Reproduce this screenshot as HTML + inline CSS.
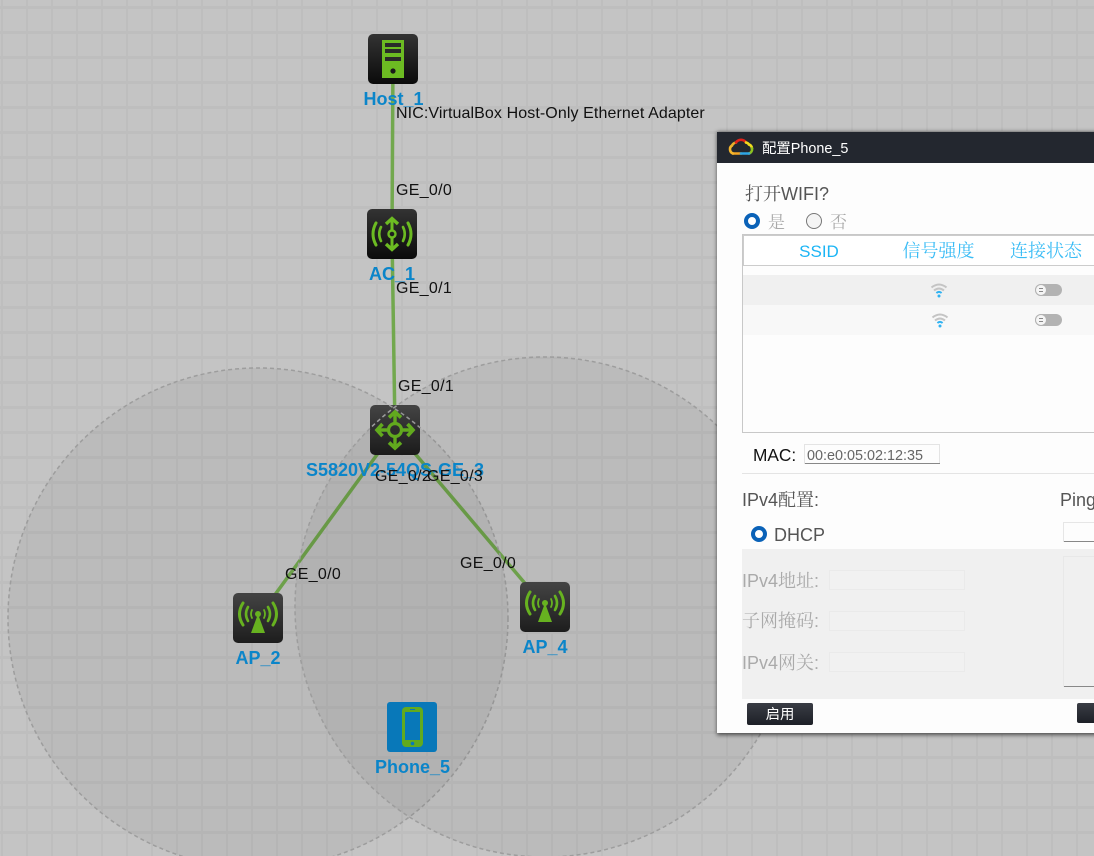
<!DOCTYPE html>
<html><head><meta charset="utf-8">
<style>
html,body{margin:0;padding:0;width:1094px;height:856px;overflow:hidden}
body{background-color:#c4c4c4;background-image:linear-gradient(90deg,transparent 1px,#bebebe 1px,#bebebe 3px,transparent 3px),linear-gradient(180deg,transparent 6px,#bebebe 6px,#bebebe 9px,transparent 9px);background-size:25px 25px}
svg{display:block}
text{font-family:"Liberation Sans","Noto Sans CJK SC",sans-serif;white-space:pre}
.n{font-weight:bold;font-size:18px;fill:#0b85c9;text-anchor:middle}
.p{font-size:16px;fill:#111;letter-spacing:.3px}
.cj{font-family:"Liberation Sans","Noto Serif CJK SC",serif}
</style></head>
<body>
<svg width="1094" height="856" viewBox="0 0 1094 856" xmlns="http://www.w3.org/2000/svg">
<defs>
<linearGradient id="d1" x1="0" y1="0" x2="0" y2="1"><stop offset="0" stop-color="#333"/><stop offset="1" stop-color="#0b0b0b"/></linearGradient>
<linearGradient id="d2" x1="0" y1="0" x2="0" y2="1"><stop offset="0" stop-color="#474747"/><stop offset="1" stop-color="#1f1f1f"/></linearGradient>
<linearGradient id="b" x1="0" y1="0" x2="0" y2="1"><stop offset="0" stop-color="#3a3d45"/><stop offset="1" stop-color="#1d2027"/></linearGradient>
<filter id="sh" x="-5%" y="-5%" width="110%" height="110%"><feGaussianBlur stdDeviation="2"/></filter>
<g id="ap">
<rect width="50" height="50" rx="5" fill="url(#d2)"/>
<g fill="none" stroke="#6cbb22" stroke-linecap="round">
<path d="M10 10q-7 11 0 22M40 10q7 11 0 22" stroke-width="3"/>
<path d="M15 14q-4 7 0 14M35 14q4 7 0 14" stroke-width="2.600"/>
<path d="M19 17q-2 4 0 8M31 17q2 4 0 8" stroke-width="1.800"/>
</g>
<circle cx="25" cy="21" r="3" fill="#6cbb22"/>
<path d="M25 21L32 40H18Z" fill="#6cbb22"/>
</g>
<g id="wifi">
<path d="M-7.500 -2.500q7.500-6 15 0M-5 0.500q5-4 10 0" fill="none" stroke="#c4c4c4" stroke-width="2"/>
<path d="M-2.600 3q2.600-2.200 5.200 0" fill="none" stroke="#2fb2f2" stroke-width="2"/>
<circle cx="0" cy="6" r="1.500" fill="#2fb2f2"/>
</g>
<g id="sw">
<rect x="0" y="-6" width="27" height="12" rx="6" fill="#b3b3b3"/>
<circle cx="6" cy="0" r="5.500" fill="#f5f5f5" stroke="#b3b3b3"/>
<path d="M4 -1.500h4M4 1.500h4" stroke="#888" stroke-width="1"/>
</g>
</defs>

<g stroke="#72a84e" stroke-width="3.500" fill="none">
<path d="M393 59L392 234"/>
<path d="M392 234L395 430"/>
<path d="M395 430L258 618"/>
<path d="M395 430L545 607"/>
</g>

<!-- Host -->
<g transform="translate(368,34)">
<rect width="50" height="50" rx="5" fill="url(#d1)"/>
<rect x="14" y="6" width="22" height="38" fill="#6cbb22"/>
<rect x="17" y="9" width="16" height="4" fill="#2a2a2a"/>
<rect x="17" y="15" width="16" height="4" fill="#2a2a2a"/>
<rect x="17" y="23" width="16" height="4" fill="#2a2a2a"/>
<circle cx="25" cy="37" r="2.600" fill="#1a1a1a"/>
</g>
<!-- AC -->
<g transform="translate(367,209)">
<rect width="50" height="50" rx="5" fill="url(#d1)"/>
<g fill="none" stroke="#6cbb22" stroke-linecap="round">
<path d="M9 14q-6 11 0 22M41 14q6 11 0 22" stroke-width="3"/>
<path d="M14 18q-3.500 7 0 14M36 18q3.500 7 0 14" stroke-width="2.600"/>
<circle cx="25" cy="25" r="3.500" stroke-width="2.400"/>
<path d="M25 11V21M25 29V39" stroke-width="3"/>
<path d="M19 15L25 9.500L31 15M19 35L25 40.500L31 35" stroke-width="3.400" stroke-linecap="butt"/>
</g>
</g>
<!-- Switch -->
<g transform="translate(370,405)">
<rect width="50" height="50" rx="5" fill="url(#d2)"/>
<g fill="none" stroke="#6cbb22">
<circle cx="25" cy="25" r="6.500" stroke-width="3.200"/>
<path d="M25 8V17M25 33V42M8 25H17M33 25H42" stroke-width="3.400"/>
<path d="M19 12.500L25 7L31 12.500M19 37.500L25 43L31 37.500M12.500 19L7 25L12.500 31M37.500 19L43 25L37.500 31" stroke-width="3.600"/>
</g>
</g>
<use href="#ap" x="233" y="593"/>
<use href="#ap" x="520" y="582"/>
<!-- Phone -->
<g transform="translate(387,702)">
<rect width="50" height="50" rx="3" fill="#0a84cb"/>
<rect x="15" y="5" width="21" height="40" rx="4" fill="#6cbb22"/>
<rect x="18" y="10" width="15" height="28" fill="#0a84cb"/>
<rect x="23" y="7" width="5" height="1" fill="#0a84cb"/>
<circle cx="25.500" cy="41.500" r="1.800" fill="#0a84cb"/>
</g>

<circle cx="258" cy="618" r="250" fill="#000" fill-opacity="0.045" stroke="#9d9d9d" stroke-width="1.500" stroke-dasharray="4 3"/>
<circle cx="545" cy="607" r="250" fill="#000" fill-opacity="0.045" stroke="#9d9d9d" stroke-width="1.500" stroke-dasharray="4 3"/>

<text class="n" x="393.500" y="105">Host_1</text>
<text class="n" x="392" y="280">AC_1</text>
<text class="n" x="395" y="476">S5820V2-54QS-GE_3</text>
<text class="n" x="258" y="664">AP_2</text>
<text class="n" x="545" y="653">AP_4</text>
<text class="n" x="412.500" y="773">Phone_5</text>

<text class="p" style="letter-spacing:.1px" x="396" y="118">NIC:VirtualBox Host-Only Ethernet Adapter</text>
<text class="p" x="396" y="195">GE_0/0</text>
<text class="p" x="396" y="293">GE_0/1</text>
<text class="p" x="398" y="391">GE_0/1</text>
<text class="p" x="375" y="481">GE_0/2</text>
<text class="p" x="427" y="481">GE_0/3</text>
<text class="p" x="285" y="579">GE_0/0</text>
<text class="p" x="460" y="568">GE_0/0</text>

<!-- Dialog -->
<rect x="717" y="132" width="400" height="603" fill="#000" fill-opacity="0.6" filter="url(#sh)"/>
<rect x="717" y="132" width="380" height="601" fill="#fdfdfd"/>
<rect x="717" y="132" width="380" height="31" fill="#23272f"/>
<g fill="none" stroke-width="2.600" stroke-linecap="round">
<path d="M733 153.500h8" stroke="#f5a623"/>
<path d="M733 153.500a4.500 4.500 0 0 1 -1-8" stroke="#f5b52b"/>
<path d="M732 145.500a5.500 5.500 0 0 1 4-3" stroke="#e8b02a"/>
<path d="M736 142.500a6 6 0 0 1 10 0" stroke="#e2231a"/>
<path d="M746 142.500a5 5 0 0 1 3 2" stroke="#f3d81c"/>
<path d="M749 144.500a4.500 4.500 0 0 1 3 4" stroke="#eedb1e"/>
<path d="M752 148.500a4.500 4.500 0 0 1 -3 5" stroke="#8dc21f"/>
<path d="M741 153.500h8" stroke="#2ea6e6"/>
</g>
<text x="762" y="153" font-size="14.400" fill="#fff">配置Phone_5</text>

<text class="cj" x="745" y="200" font-size="18" fill="#555">打开WIFI?</text>
<circle cx="752" cy="221" r="6" fill="#fff" stroke="#0a62b8" stroke-width="4"/>
<text class="cj" x="768" y="228" font-size="17" fill="#aaa">是</text>
<circle cx="814" cy="221" r="7.500" fill="#f4f4f4" stroke="#777" stroke-width="1"/>
<text class="cj" x="830" y="228" font-size="17" fill="#aaa">否</text>

<rect x="742.500" y="234.500" width="370" height="198" fill="#fdfdfd" stroke="#c8c8c8"/>
<rect x="743" y="234" width="370" height="1.500" fill="#c8c8c8"/>
<rect x="743.500" y="235.500" width="370" height="30" fill="#fff" stroke="#ccc"/>
<rect x="743" y="275" width="351" height="30" fill="#f0f0f0"/>
<rect x="743" y="305" width="351" height="30" fill="#f8f8f8"/>
<text x="819" y="257" font-size="17" fill="#1cb5f5" text-anchor="middle">SSID</text>
<text class="cj" x="938.500" y="257" font-size="18" fill="#3abcf5" text-anchor="middle">信号强度</text>
<text class="cj" x="1046" y="257" font-size="18" fill="#3abcf5" text-anchor="middle">连接状态</text>
<use href="#wifi" x="939" y="290"/>
<use href="#wifi" x="940" y="320"/>
<use href="#sw" x="1035" y="290"/>
<use href="#sw" x="1035" y="320"/>

<text x="753" y="461" font-size="17.300" fill="#111">MAC:</text>
<rect x="804.500" y="444.500" width="135" height="19" fill="#fdfdfd" stroke="#e4e4e4"/>
<rect x="805" y="463" width="135" height="1" fill="#888"/>
<text x="807" y="460" font-size="14.400" fill="#666">00:e0:05:02:12:35</text>
<rect x="742" y="473" width="352" height="1" fill="#e4e4e4"/>

<text class="cj" x="742" y="506" font-size="18" fill="#555">IPv4配置:</text>
<text x="1060" y="506" font-size="18" fill="#555">Ping</text>
<circle cx="759" cy="534" r="6" fill="#fff" stroke="#0a62b8" stroke-width="4"/>
<text x="774" y="541" font-size="18" fill="#555">DHCP</text>
<rect x="1063.500" y="522.500" width="40" height="19" fill="#fdfdfd" stroke="#e6e6e6"/>
<rect x="1064" y="541" width="40" height="1" fill="#888"/>

<rect x="742" y="549" width="352" height="150" fill="#f0f0f0"/>
<text class="cj" x="742" y="587" font-size="18" fill="#aaa">IPv4地址:</text>
<text class="cj" x="742" y="627" font-size="18" fill="#aaa">子网掩码:</text>
<text class="cj" x="742" y="669" font-size="18" fill="#aaa">IPv4网关:</text>
<rect x="829.500" y="570.500" width="135" height="19" fill="#f1f1f1" stroke="#eaeaea"/>
<rect x="829.500" y="611.500" width="135" height="19" fill="#f1f1f1" stroke="#eaeaea"/>
<rect x="829.500" y="652.500" width="135" height="19" fill="#f1f1f1" stroke="#eaeaea"/>
<rect x="1063.500" y="556.500" width="40" height="130" fill="#f0f0f0" stroke="#e8e8e8"/>
<rect x="1064" y="686" width="40" height="1" fill="#888"/>

<rect x="747" y="703" width="66" height="22" rx="2" fill="url(#b)"/>
<text x="780" y="719" font-size="14.400" fill="#fff" text-anchor="middle">启用</text>
<rect x="1077" y="703" width="30" height="20" rx="2" fill="url(#b)"/>
</svg>
</body></html>
